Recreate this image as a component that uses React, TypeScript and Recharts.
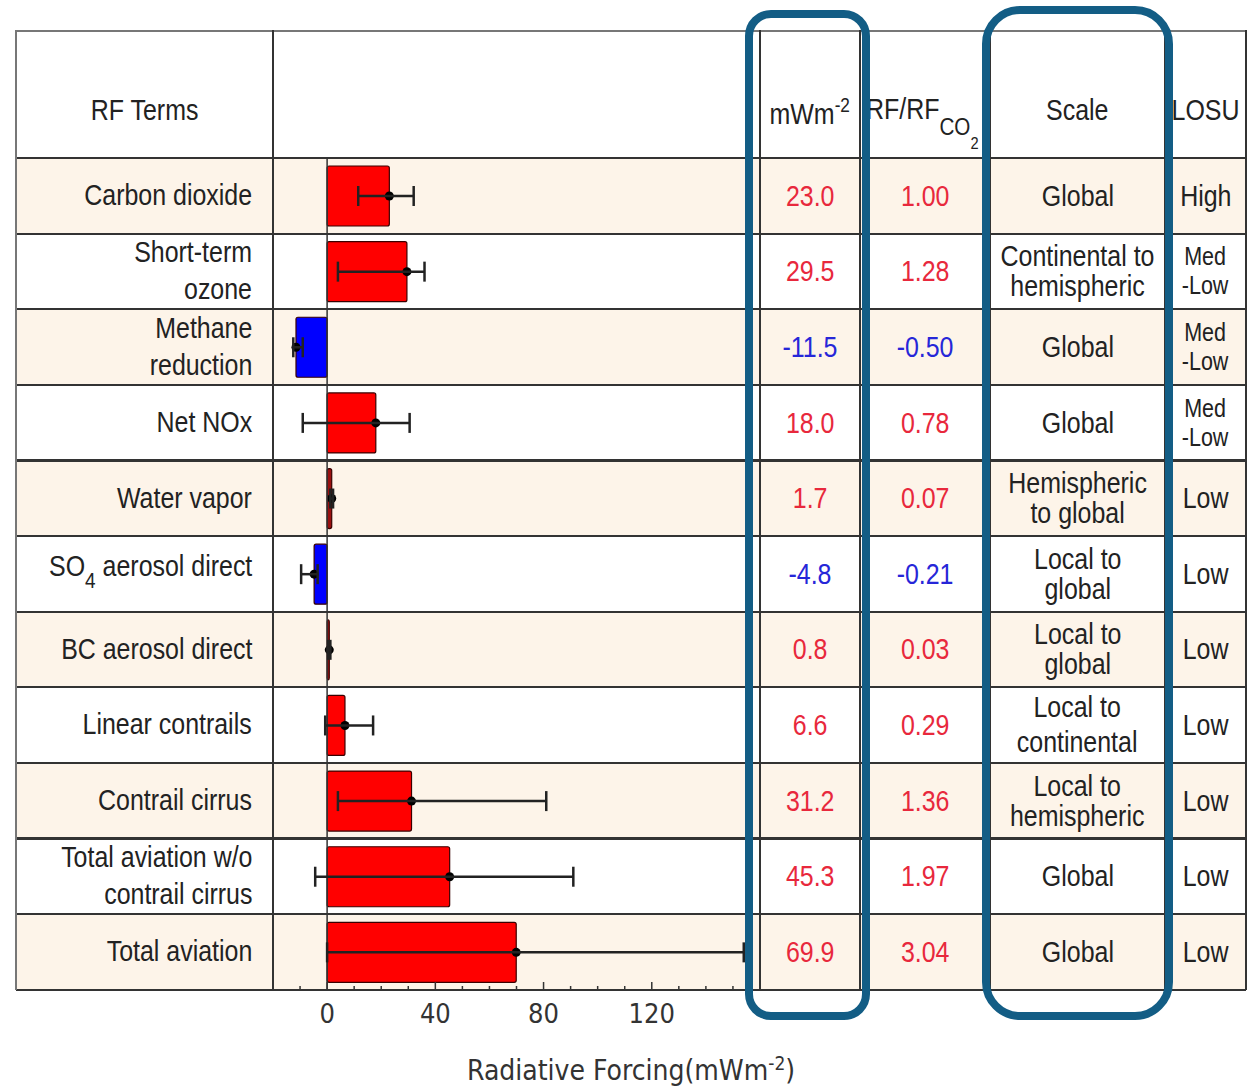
import { Bar, BarChart, ErrorBar, ReferenceLine, XAxis, YAxis } from "recharts";

const terms = [
  ["Carbon dioxide"],
  ["Short-term", "ozone"],
  ["Methane", "reduction"],
  ["Net NOx"],
  ["Water vapor"],
  ["SO4 aerosol direct"],
  ["BC aerosol direct"],
  ["Linear contrails"],
  ["Contrail cirrus"],
  ["Total aviation w/o", "contrail cirrus"],
  ["Total aviation"],
];
const rfValues = [23.0, 29.5, -11.5, 18.0, 1.7, -4.8, 0.8, 6.6, 31.2, 45.3, 69.9];
const rfLow = [11.5, 4, -12.5, -9, 1.2, -9.6, 0.4, -0.7, 4, -4.4, 0];
const rfHigh = [32, 36, -9, 30.5, 2.2, -3.5, 1.2, 17, 81, 91, 154];
const rfRatio = ["1.00", "1.28", "-0.50", "0.78", "0.07", "-0.21", "0.03", "0.29", "1.36", "1.97", "3.04"];
const scales = [
  ["Global"],
  ["Continental to", "hemispheric"],
  ["Global"],
  ["Global"],
  ["Hemispheric", "to global"],
  ["Local to", "global"],
  ["Local to", "global"],
  ["Local to", "continental"],
  ["Local to", "hemispheric"],
  ["Global"],
  ["Global"],
];
const losu = [["High"], ["Med", "-Low"], ["Med", "-Low"], ["Med", "-Low"], ["Low"], ["Low"], ["Low"], ["Low"], ["Low"], ["Low"], ["Low"]];
const xTicks = [-10, 0, 10, 20, 30, 40, 50, 60, 70, 80, 90, 100, 110, 120, 130, 140, 150];

const data = rfValues.map((v, i) => ({
  name: terms[i].join(" "),
  rf: v,
  err: [v - rfLow[i], rfHigh[i] - v],
}));

const TOP = 158;
const ROW = 75.6;
const BOTTOM = TOP + ROW * 11;
const COLS = [16, 273, 760, 860, 990, 1165, 1246];
const FONT = "'Liberation Sans', Arial, sans-serif";
const AXFONT = "'DejaVu Sans Condensed', 'DejaVu Sans', sans-serif";
const RED = "#e8283c";
const BLUE = "#2626d8";

function BarShape(props: any) {
  const { x, y, width, height, payload } = props;
  const v = payload.rf;
  const left = Math.min(x, x + width);
  const w = Math.max(Math.abs(width), 1.5);
  const endX = v >= 0 ? left + w : left;
  const thin = w < 6;
  return (
    <g>
      <rect x={left} y={y} width={w} height={height} rx={2} fill={v >= 0 ? (thin ? "#9a1010" : "#ff0000") : "#0000ff"} stroke="#3a0000" strokeWidth={1.2} />
      <circle cx={endX} cy={y + height / 2} r={4.5} fill="#000" />
    </g>
  );
}

function Tick({ x, y, payload }: any) {
  const v = payload.value;
  const major = v >= 0 && v % 40 === 0;
  return (
    <g>
      <line x1={x} x2={x} y1={y} y2={y - (major ? 8 : 4)} stroke="#333" strokeWidth={1.5} />
      {major && (
        <text x={x} y={y + 33} textAnchor="middle" fontFamily={AXFONT} fontSize={27} fill="#333">
          {v}
        </text>
      )}
    </g>
  );
}

function Txt({ lines, align, color, lh, size }: { lines: any[]; align: string; color?: string; lh: number; size?: number }) {
  return (
    <div
      style={{
        display: "inline-block",
        transform: "scaleX(0.86)",
        transformOrigin: align === "right" ? "right center" : "center center",
        textAlign: align as any,
        lineHeight: `${lh}px`,
        fontSize: size || 29,
        color: color || "#222",
        whiteSpace: "nowrap",
      }}
    >
      {lines.map((l, i) => (
        <div key={i}>{l}</div>
      ))}
    </div>
  );
}

function Cell({ x0, x1, y, h, align, children, pad }: any) {
  return (
    <div
      style={{
        position: "absolute",
        left: x0,
        top: y,
        width: x1 - x0,
        height: h,
        display: "flex",
        alignItems: "center",
        justifyContent: align === "right" ? "flex-end" : "center",
        paddingRight: pad || 0,
        boxSizing: "border-box",
      }}
    >
      {children}
    </div>
  );
}

export default function App() {
  return (
    <div style={{ position: "absolute", left: 0, top: 0, width: 1251, height: 1086, background: "#fff", fontFamily: FONT, fontSize: 29 }}>
      {/* row bands */}
      {rfValues.map((_, i) => (
        <div key={i} style={{ position: "absolute", left: 16, top: TOP + i * ROW, width: 1230, height: ROW, background: i % 2 === 0 ? "#fdf4e9" : "#fff" }} />
      ))}

      <div style={{ position: "absolute", left: 273, top: TOP }}>
        <BarChart width={487} height={832 + 100} data={data} layout="vertical" margin={{ top: 0, right: 0, bottom: 0, left: 0 }} barSize={60}>
          <XAxis type="number" domain={[-20, 160]} ticks={xTicks} height={100} axisLine={false} tickLine={false} tickSize={0} tickMargin={0} tick={<Tick />} interval={0} allowDataOverflow />
          <YAxis type="category" dataKey="name" hide />
          <ReferenceLine x={0} stroke="#333" strokeWidth={1.5} />
          <Bar dataKey="rf" shape={<BarShape />} isAnimationActive={false}>
            <ErrorBar dataKey="err" direction="x" width={10} stroke="#222" strokeWidth={2.5} />
          </Bar>
        </BarChart>
      </div>

      {/* horizontal lines */}
      <div style={{ position: "absolute", left: 16, top: 30, width: 1230, height: 1.5, background: "#777" }} />
      {Array.from({ length: 12 }).map((_, i) => (
        <div key={i} style={{ position: "absolute", left: 16, top: TOP + i * ROW - 1, width: 1230, height: 2.2, background: "#333" }} />
      ))}
      {/* vertical lines */}
      {COLS.map((c, i) => (
        <div key={i} style={{ position: "absolute", left: c - 0.75, top: 30, width: 1.5, height: BOTTOM - 30, background: i === 0 ? "#777" : "#333" }} />
      ))}

      {/* header */}
      <Cell x0={16} x1={273} y={46} h={127}>
        <Txt lines={["RF Terms"]} align="center" lh={30} />
      </Cell>
      <Cell x0={760} x1={860} y={46} h={127}>
        <Txt lines={[<span>mWm<sup style={{ fontSize: 20, verticalAlign: 12 }}>-2</sup></span>]} align="center" lh={30} />
      </Cell>
      <div style={{ position: "absolute", left: 866, top: 94, whiteSpace: "nowrap", color: "#222", transform: "scaleX(0.86)", transformOrigin: "left center", lineHeight: "30px" }}>
        RF/RF<span style={{ position: "relative", top: 16, fontSize: 24 }}>CO<span style={{ position: "relative", top: 14, fontSize: 17 }}>2</span></span>
      </div>
      <Cell x0={990} x1={1165} y={46} h={127}>
        <Txt lines={["Scale"]} align="center" lh={30} />
      </Cell>
      <Cell x0={1165} x1={1246} y={46} h={127}>
        <Txt lines={["LOSU"]} align="center" lh={30} />
      </Cell>

      {/* rows */}
      {rfValues.map((v, i) => {
        const y = TOP + i * ROW;
        const termLines = i === 5 ? [<span>SO<sub style={{ fontSize: 22, verticalAlign: -12 }}>4</sub> aerosol direct</span>] : terms[i];
        const c = v >= 0 ? RED : BLUE;
        return (
          <div key={i}>
            <Cell x0={16} x1={273} y={y} h={ROW} align="right" pad={21}>
              <Txt lines={termLines} align="right" lh={37} />
            </Cell>
            <Cell x0={760} x1={860} y={y} h={ROW}>
              <Txt lines={[v.toFixed(1)]} align="center" color={c} lh={30} />
            </Cell>
            <Cell x0={860} x1={990} y={y} h={ROW}>
              <Txt lines={[rfRatio[i]]} align="center" color={c} lh={30} />
            </Cell>
            <Cell x0={990} x1={1165} y={y} h={ROW}>
              <Txt lines={scales[i]} align="center" lh={scales[i][1] === "continental" ? 35 : 30} />
            </Cell>
            <Cell x0={1165} x1={1246} y={y} h={ROW}>
              <Txt lines={losu[i]} align="center" lh={losu[i].length > 1 ? 29 : 30} size={losu[i].length > 1 ? 25 : 29} />
            </Cell>
          </div>
        );
      })}

      {/* axis title */}
      <div style={{ position: "absolute", left: 467, top: 1052, fontFamily: AXFONT, fontSize: 28, color: "#333", whiteSpace: "nowrap" }}>
        Radiative Forcing(mWm<sup style={{ fontSize: 19, verticalAlign: 10 }}>-2</sup>)
      </div>

      {/* highlight boxes */}
      <svg width={1251} height={1086} style={{ position: "absolute", left: 0, top: 0, pointerEvents: "none" }}>
        <rect x={749} y={14} width={117} height={1002} rx={22} fill="none" stroke="#135d85" strokeWidth={8} />
        <rect x={986} y={10} width={183} height={1006} rx={34} fill="none" stroke="#135d85" strokeWidth={8} />
      </svg>
    </div>
  );
}
